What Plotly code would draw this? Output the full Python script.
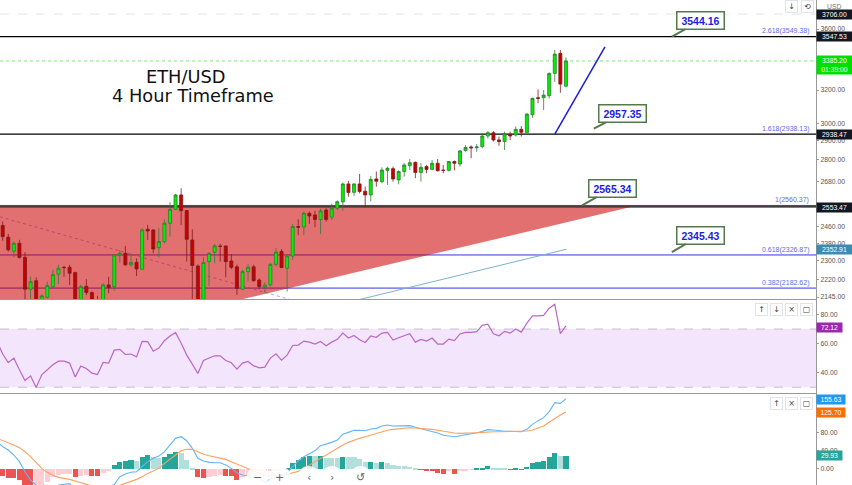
import math
import plotly.graph_objects as go
from plotly.subplots import make_subplots

# ETH/USD 4h candles
opens = [2463, 2408, 2344, 2380, 2316, 2178, 2214, 2120, 2144, 2189, 2242, 2272, 2272, 2249, 2120, 2190, 2164, 2125,
         2126, 2196, 2189, 2327, 2334, 2283, 2294, 2264, 2445, 2442, 2360, 2388, 2474, 2541, 2613, 2535, 2395, 2278,
         2126, 2297, 2339, 2367, 2368, 2300, 2274, 2178, 2253, 2274, 2217, 2186, 2196, 2285, 2343, 2268, 2322, 2458,
         2456, 2522, 2514, 2492, 2538, 2503, 2547, 2578, 2669, 2626, 2669, 2632, 2613, 2695, 2681, 2740, 2749, 2690,
         2734, 2765, 2783, 2729, 2760, 2745, 2778, 2741, 2740, 2787, 2774, 2847, 2867, 2862, 2869, 2928, 2947, 2906,
         2897, 2938, 2934, 2966, 2946, 3051, 3153, 3153, 3165, 3305, 3435, 3224]
highs = [2482, 2423, 2388, 2396, 2339, 2232, 2228, 2157, 2210, 2261, 2283, 2278, 2283, 2253, 2196, 2221, 2168, 2150,
         2203, 2231, 2327, 2349, 2368, 2334, 2312, 2450, 2466, 2445, 2450, 2493, 2576, 2618, 2647, 2538, 2445, 2285,
         2316, 2339, 2377, 2377, 2368, 2331, 2283, 2261, 2285, 2283, 2224, 2207, 2290, 2357, 2353, 2322, 2471, 2493,
         2530, 2530, 2534, 2544, 2547, 2570, 2586, 2676, 2685, 2672, 2721, 2655, 2710, 2734, 2756, 2760, 2760, 2740,
         2778, 2801, 2787, 2778, 2769, 2796, 2801, 2769, 2790, 2793, 2850, 2877, 2875, 2883, 2943, 2956, 2956, 2925,
         2953, 2953, 2982, 2985, 3059, 3153, 3204, 3200, 3309, 3457, 3457, 3408]
lows = [2392, 2342, 2317, 2312, 2110, 2133, 2100, 2112, 2140, 2182, 2200, 2231, 2196, 2106, 2110, 2154, 2126, 2100,
        2110, 2161, 2172, 2293, 2278, 2275, 2234, 2261, 2395, 2334, 2316, 2380, 2411, 2538, 2466, 2297, 2133, 2106,
        2106, 2192, 2290, 2297, 2229, 2264, 2154, 2175, 2210, 2210, 2178, 2164, 2189, 2275, 2268, 2168, 2304, 2418,
        2418, 2471, 2455, 2423, 2482, 2490, 2538, 2534, 2604, 2609, 2621, 2555, 2581, 2655, 2672, 2664, 2681, 2667,
        2707, 2742, 2699, 2681, 2725, 2742, 2734, 2725, 2734, 2740, 2760, 2840, 2805, 2840, 2860, 2914, 2897, 2873,
        2850, 2905, 2925, 2925, 2946, 3033, 3119, 3078, 3149, 3251, 3183, 3217]
closes = [2411, 2350, 2380, 2315, 2178, 2210, 2120, 2150, 2193, 2240, 2268, 2271, 2246, 2120, 2189, 2164, 2133, 2112,
          2196, 2185, 2327, 2334, 2283, 2293, 2265, 2442, 2437, 2354, 2388, 2474, 2541, 2613, 2535, 2398, 2280, 2126,
          2293, 2334, 2368, 2366, 2297, 2272, 2181, 2253, 2272, 2214, 2189, 2195, 2285, 2340, 2271, 2322, 2458, 2455,
          2522, 2509, 2492, 2534, 2492, 2547, 2579, 2669, 2625, 2669, 2630, 2613, 2693, 2683, 2742, 2751, 2695, 2734,
          2769, 2781, 2729, 2756, 2745, 2778, 2738, 2740, 2787, 2778, 2845, 2864, 2862, 2867, 2928, 2947, 2906, 2897,
          2940, 2928, 2966, 2949, 3055, 3149, 3149, 3169, 3305, 3430, 3237, 3385]

rsi = [61.5, 52.8, 47.0, 50.0, 42.0, 34.6, 37.8, 29.8, 38.5, 42.0, 45.4, 47.9, 47.9, 46.6, 37.1, 44.5, 42.9, 39.7, 38.7,
       47.0, 46.6, 55.5, 56.0, 52.5, 52.8, 50.9, 61.5, 61.3, 54.8, 56.9, 62.0, 65.2, 67.5, 60.3, 52.1, 45.9, 39.4,
       48.4, 50.2, 51.6, 51.6, 48.4, 46.8, 42.4, 46.6, 47.7, 44.7, 43.3, 43.8, 50.0, 53.0, 48.6, 52.1, 58.7, 59.0,
       61.7, 61.0, 59.7, 61.5, 58.5, 61.0, 62.9, 67.2, 63.8, 65.6, 62.6, 60.8, 65.2, 64.3, 67.2, 67.7, 62.4, 64.0,
       65.6, 66.8, 61.0, 62.9, 61.7, 63.8, 59.7, 59.7, 63.1, 62.0, 66.6, 67.7, 67.7, 68.2, 72.5, 73.4, 66.8, 65.4,
       68.4, 67.2, 70.0, 67.9, 74.1, 79.0, 79.0, 79.4, 84.3, 87.0, 66.8, 72.12]

macd = [60.0, 48.9, 41.5, 30.4, 15.6, -6.7, -25.2, -36.3, -47, -51, -47, -36.3, -34, -33.3, -47, -58, -66, -67, -58,
        -51, -40, -35, -18, -12, -8, -6.7, 4.4, 15.6, 23, 28, 37.8, 52.6, 67.4, 71.1, 62.2, 45.2, 23, 17, 14, 13.3,
        13.3, 8.1, 0.7, -8.9, -14, -16.3, -19.3, -21.5, -31, -22, -17.6, -16, -9, 5.1, 17.8,
        26.7, 34.1, 40, 51.1, 54.1, 58.5, 63.7, 76.3, 80.7, 85.2, 85.2, 84.4, 88.1, 89.6, 94.8, 97, 94.8, 94.8, 95.6,
        95.6, 91.9, 88.9, 85.2, 82.2, 79.3, 74.1, 72.6, 71.1, 73.3, 76.3, 77.8, 79.3, 83.7, 86.7, 85.9, 83.7, 83, 83,
        83, 82.2, 87.4, 98.5, 106.7, 113.3, 126.7, 146.7, 145.2, 155.63]
signal = [67.4, 63, 58.5, 52.6, 46.7, 37.8, 26.7, 13.3, 0.7, -8.1, -14.8, -19.3, -20.7, -23.7, -27.4, -30.4, -34.8,
          -38.5, -42, -44, -43, -41, -37, -32.6, -28.9, -23.7, -17.8, -10.4, -5.2, 0.7, 11.9, 21.5, 30.4, 40, 43, 43,
          37.8, 31.9, 28.9, 25.9, 23, 20.7, 15.6, 10.4, 4.4, -0.7, -6.7, -11.9, -15.6, -16.3, -15.6, -14, -12.6, -8.9,
          -5.9, 0.7, 8.1, 15.6, 24.4, 30.4, 37.8, 45.2, 52.6, 58.5, 63.7, 67.4, 71.1, 74.8, 78.5, 82.2, 85.2, 87.4,
          88.9, 90.4, 91.1, 90.4, 89.6, 88.1, 87.4, 85.2, 83, 80.7, 79.3, 78.5, 78.5, 78.5, 80, 80.7, 82.2, 82.2, 82.2,
          82.2, 82.2, 82.2, 82.2, 83.7, 85.9, 89.6, 94.8, 103, 111.9, 119.3, 125.7]
hist = [-14, -18.5, -20, -25, -42, -43, -38, -37, -29, -18, -12, -10, -10, -18, -14, -13.5, -14, -16, -8, -3,
        9.6, 17, 18.5, 20, 18.5, 26, 32, 26, 25.5, 28, 33, 39, 35.6, 21.5, 3.7, -18, -20, -18, -15, -12, -14, -16, -23,
        -18, -16, -6.7, -5, -3, -2, -1.8, -1.6, 3.7, 14, 21.5,
        27.4, 30, 29, 29.5, 24.4, 24.4, 24.4, 28, 26.7, 26.7, 22, 15, 15.6, 14.8, 15.2, 14, 9, 8, 6.7, 6, 1.5, -1.5,
        -3.7, -5, -8, -11, -5, -9.6, -4.4, -2, -1, 2, 3.7, 6.7, 3.7, 2, 1.5, -1.5, 1.5, -1.5, 5, 13, 17, 18.5, 26.7, 37,
        29, 29.93]

price_ticks = [3600, 3200, 3000, 2900, 2800, 2680, 2460, 2380, 2300, 2220, 2145]
rsi_ticks = [80, 60, 40]
macd_ticks = [80, 40, 0]

# drawing tools on the price pane
wedge_x = [-1, 112.8, 42.7, -1]
wedge_y = [2553.47, 2553.47, 2135, 2135]
support_x = [64.0, 101.1]
support_y = [2135, 2352.91]
trend_x = [99, 108]
trend_y = [2938.47, 3479]
fade_x = [-0.5, 51.5]
fade_y = [2505, 2135]
black_levels = [3547.53, 2938.47, 2553.47]
fib_levels = [3549.38, 2938.13, 2560.37, 2326.87, 2182.62]
fib_names = ['2.618(3549.38)', '1.618(2938.13)', '1(2560.37)', '0.618(2326.87)', '0.382(2182.62)']
callouts = [('3544.16', 120.0, 3547.53, 29, -16), ('2957.35', 106.0, 2970, 29, -15),
            ('2565.34', 103.9, 2560.37, 30, -17), ('2345.43', 120.0, 2340, 29, -17)]

BLUE = '#3232ea'
GRAY = '#999999'
TICK = '#555555'
FONT = 'Liberation Sans'

H = 485
W = 852
pane1 = 299.5
pane2 = 393.5
right = 816.5

n = len(opens)
idx = list(range(n))
x_line = list(range(-1, n))
hist_colors = []
for i, v in enumerate(hist):
    prev = hist[i - 1] if i else v - 1 if v > 0 else v + 1
    if v >= 0:
        hist_colors.append('#26a69a' if v > prev else '#b2dfdb')
    else:
        hist_colors.append('#ef5350' if v < prev else '#ffcdd2')

fig = make_subplots(rows=3, cols=1, shared_xaxes=True, vertical_spacing=0,
                    row_heights=[pane1, pane2 - pane1, H - pane2])

fig.add_trace(go.Candlestick(
    x=idx, open=opens, high=highs, low=lows, close=closes,
    increasing=dict(fillcolor='#00f000', line=dict(color='#2e7d32', width=0.8)),
    decreasing=dict(fillcolor='#c80000', line=dict(color='#7f1a1a', width=0.8)),
    whiskerwidth=0), row=1, col=1)
fig.add_trace(go.Scatter(x=support_x, y=support_y, mode='lines',
                         line=dict(color='#79b2cf', width=1)), row=1, col=1)
fig.add_trace(go.Scatter(x=trend_x, y=trend_y, mode='lines',
                         line=dict(color='#1c1ce0', width=1.5)), row=1, col=1)

fig.add_trace(go.Scatter(x=x_line, y=rsi, mode='lines',
                         line=dict(color='#ba68c8', width=1.2)), row=2, col=1)

fig.add_trace(go.Bar(x=idx, y=hist, marker_color=hist_colors, marker_line_width=0, width=0.92), row=3, col=1)
fig.add_trace(go.Scatter(x=x_line, y=macd, mode='lines',
                         line=dict(color='#64b5f6', width=1.1)), row=3, col=1)
fig.add_trace(go.Scatter(x=x_line, y=signal, mode='lines',
                         line=dict(color='#ffa060', width=1.1)), row=3, col=1)

# fib lines go first so the wedge tints them purple
shapes = []
for lv in fib_levels[2:]:
    shapes.append(dict(type='line', xref='paper', x0=0, x1=1, yref='y', y0=lv, y1=lv,
                       layer='below', line=dict(color=BLUE, width=1)))
shapes.append(dict(type='line', xref='x', x0=fade_x[0], x1=fade_x[1], yref='y', y0=fade_y[0], y1=fade_y[1],
                   layer='below', line=dict(color='#8f86ff', width=0.8, dash='dot')))
path = 'M ' + ' L '.join(f'{a},{b}' for a, b in zip(wedge_x, wedge_y)) + ' Z'
shapes.append(dict(type='path', path=path, xref='x', yref='y', layer='below',
                   fillcolor='rgba(204,0,0,0.56)', line=dict(width=0)))
for lv in black_levels:
    shapes.append(dict(type='line', xref='paper', x0=0, x1=1, yref='y', y0=lv, y1=lv,
                       layer='below', line=dict(color='#000000', width=1.1)))
shapes.append(dict(type='line', xref='paper', x0=0, x1=1, yref='y', y0=closes[-1], y1=closes[-1],
                   layer='below', line=dict(color='#7fe87f', width=1, dash='dot')))
shapes.append(dict(type='line', xref='paper', x0=0, x1=1, yref='y', y0=3706, y1=3706,
                   layer='below', line=dict(color='#e4e4e4', width=1, dash='dash')))
# rsi band
shapes.append(dict(type='rect', xref='paper', x0=0, x1=1, yref='y2', y0=30, y1=70, layer='below',
                   fillcolor='#f3e5fc', line=dict(width=0)))
for lv in [30, 70]:
    shapes.append(dict(type='line', xref='paper', x0=0, x1=1, yref='y2', y0=lv, y1=lv, layer='below',
                       line=dict(color='#c9bccf', width=1, dash='dash')))
# pane separators
for py in [pane1, pane2]:
    shapes.append(dict(type='line', xref='paper', x0=0, x1=1, yref='paper',
                       y0=1 - py / H, y1=1 - py / H, line=dict(color=GRAY, width=1.2)))
# zoom buttons on the bottom edge
for cx in [258, 280, 309, 332, 361]:
    shapes.append(dict(type='circle', xref='paper', yref='paper',
                       x0=(cx - 11) / right, x1=(cx + 11) / right,
                       y0=1 - (477 + 11) / H, y1=1 - (477 - 11) / H,
                       fillcolor='rgba(255,255,255,0.85)', line=dict(width=0)))

notes = []
# title
notes.append(dict(text='ETH/USD', xref='paper', yref='paper', x=185.5 / right, y=1 - 76.5 / H, xanchor='center',
                  yanchor='middle', showarrow=False, font=dict(family='DejaVu Sans', size=17.8, color='#111111')))
notes.append(dict(text='4 Hour Timeframe', xref='paper', yref='paper', x=193 / right, y=1 - 96 / H, xanchor='center',
                  yanchor='middle', showarrow=False, font=dict(family='DejaVu Sans', size=17.8, color='#111111')))
# fib names
for lv, name in zip(fib_levels, fib_names):
    notes.append(dict(text=name, xref='paper', x=811 / right, xanchor='right', yref='y', y=math.log10(lv),
                      yshift=5, showarrow=False, font=dict(family=FONT, size=7, color='#5c6cf0')))
# callouts
for text, cx, cy, ax, ay in callouts:
    notes.append(dict(text='<b>%s</b>' % text, xref='x', yref='y', x=cx, y=math.log10(cy),
                      ax=ax, ay=ay, showarrow=True, arrowhead=0, arrowwidth=2, arrowcolor='#55784f',
                      bgcolor='white', bordercolor='#55784f', borderwidth=1.5, borderpad=2,
                      width=42, font=dict(family=FONT, size=10.5, color='#1c1ce0')))


def price_tag(text, py, bg, color='white', h=9, w=35):
    return dict(text=text, xref='paper', yref='paper', x=(right + 0.5) / right, y=1 - py / H,
                xanchor='left', yanchor='middle', showarrow=False, bgcolor=bg, width=w, height=h, borderpad=0,
                font=dict(family=FONT, size=6.8, color=color))


notes.append(dict(text='USD', xref='paper', yref='paper', x=835 / right, y=1 - 6.7 / H, xanchor='center',
                  yanchor='middle', showarrow=False, font=dict(family=FONT, size=6.8, color='#777777'),
                  bgcolor='rgba(255,255,255,0.9)'))
notes.append(price_tag('3706.00', 14, '#131722'))
notes.append(price_tag('3547.53', 37, '#131722'))
notes.append(price_tag('3385.20<br>01:39:00', 65, '#00e000', h=18))
notes.append(price_tag('2938.47', 134, '#131722'))
notes.append(price_tag('2553.47', 207, '#131722'))
notes.append(price_tag('2352.91', 250, '#3d8bb0'))
notes.append(price_tag('72.12', 327, '#9c27b0', w=25))
notes.append(price_tag('155.63', 399, '#2196f3', w=28))
notes.append(price_tag('125.70', 412.5, '#ff6d00', w=28))
notes.append(price_tag('29.93', 455.3, '#26a69a', w=25))

# pane buttons
buttons = [('↓', 792, 7), ('⟲', 808, 7),
           ('↑', 762, 309.7), ('↓', 777, 309.7), ('×', 792, 309.7), ('▢', 807, 309.7),
           ('↑', 777, 403.7), ('×', 792, 403.7), ('▢', 807, 403.7)]
for sym, bx, by in buttons:
    notes.append(dict(text=sym, xref='paper', yref='paper', x=bx / right, y=1 - by / H, xanchor='center',
                      yanchor='middle', showarrow=False, width=11, height=11, borderpad=0, bgcolor='white',
                      bordercolor='#e0e3eb', borderwidth=1,
                      font=dict(family='DejaVu Sans', size=8, color='#444444')))
for sym, bx in [('−', 258), ('+', 280), ('‹', 309), ('›', 332), ('↺', 361)]:
    notes.append(dict(text=sym, xref='paper', yref='paper', x=bx / right, y=1 - 477 / H, xanchor='center',
                      yanchor='middle', showarrow=False, font=dict(family='DejaVu Sans', size=11, color='#666666')))

axis_common = dict(side='right', showgrid=False, zeroline=False, ticks='outside', ticklen=2,
                   tickcolor=GRAY, showline=True, linecolor=GRAY, linewidth=1.2,
                   tickfont=dict(family=FONT, size=6.8, color=TICK), ticklabelposition='outside')
fig.update_yaxes(type='log', range=[math.log10(2135), math.log10(3808)], tickvals=price_ticks,
                 ticktext=['%.2f' % v for v in price_ticks], row=1, col=1, **axis_common)
fig.update_yaxes(range=[25.7, 90.3], tickvals=rsi_ticks, ticktext=['%.2f' % v for v in rsi_ticks],
                 row=2, col=1, **axis_common)
fig.update_yaxes(range=[-36.2, 167], tickvals=macd_ticks, ticktext=['%.2f' % v for v in macd_ticks],
                 row=3, col=1, **axis_common)
fig.update_xaxes(range=[-0.484, (right - 2.7) / 5.58], visible=False, rangeslider_visible=False)

fig.update_layout(width=W, height=H, margin=dict(l=0, r=W - right, t=0, b=0, pad=0),
                  paper_bgcolor='white', plot_bgcolor='white', showlegend=False, bargap=0, boxgap=0.22,
                  shapes=shapes, annotations=notes)
fig.write_html("out.html", config={'displayModeBar': False},
               post_script="document.body.style.margin='0';")
